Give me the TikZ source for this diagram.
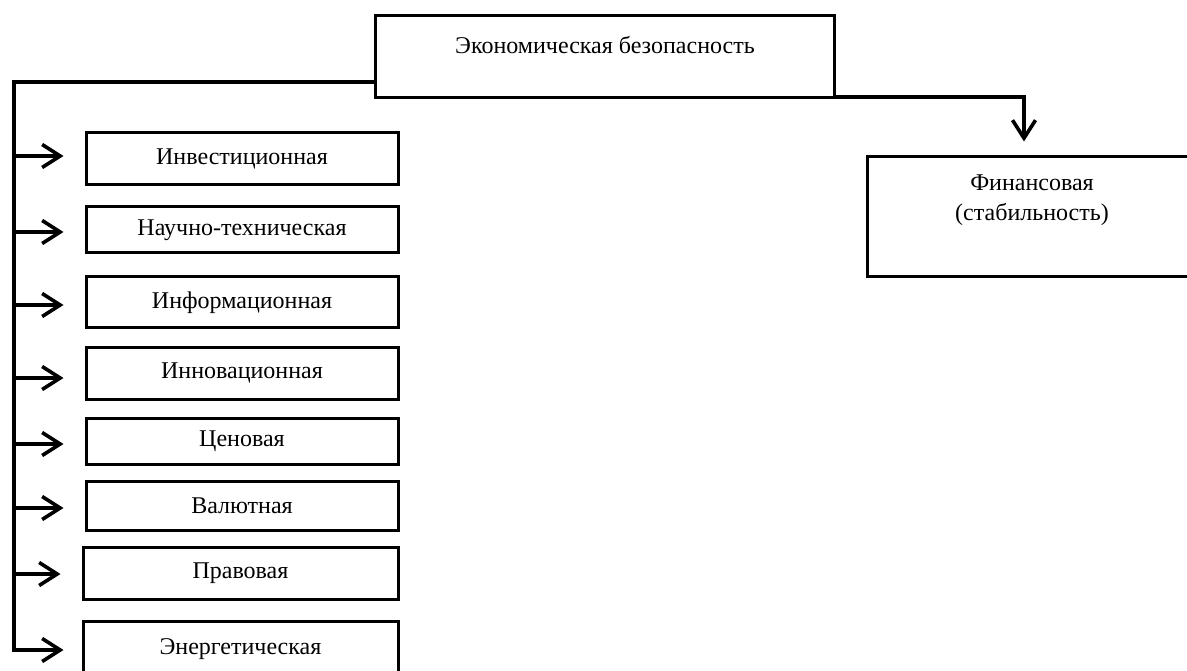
\documentclass[tikz,border=0pt]{standalone}
\usepackage{fontspec}
\setmainfont{Liberation Serif}
\usetikzlibrary{arrows.meta}
\tikzset{
  box/.style={draw=black, line width=3pt, rectangle, inner sep=0pt, minimum width=312pt, minimum height=50pt, font=\fontsize{24}{28}\selectfont},
  lbl/.style={font=\fontsize{24}{30}\selectfont, inner sep=0pt, align=center},
  conn/.style={line width=4pt, line join=miter},
  tip/.style={-{Straight Barb[length=18pt, width=23pt, line width=3.6pt]}},
  arr/.style={line width=3.6pt, tip, shorten >=21pt},
}
\begin{document}
\begin{tikzpicture}[x=1pt, y=-1pt]
\useasboundingbox (0,0) rectangle (1187,671);
\clip (0,0) rectangle (1187,671);
\fill[white] (0,0) rectangle (1187,671);
% top box
\node[box, minimum width=459pt, minimum height=82pt] (top) at (604.5,57) {};
\node[lbl] (toptxt) at (605,45) {Экономическая безопасность};
% right box
\node[box, minimum width=330pt, minimum height=120pt] (fin) at (1032,217) {};
\node[lbl] (fintxt) at (1032,200) {Финансовая\\(стабильность)};
% left boxes
\node[box, minimum height=52pt] (b1) at (242,159) {Инвестиционная};
\node[box, minimum height=46pt] (b2) at (242,230) {Научно-техническая};
\node[box, minimum height=51pt] (b3) at (242,302.5) {Информационная};
\node[box, minimum height=52pt] (b4) at (242,373) {Инновационная};
\node[box, minimum height=46pt] (b5) at (242,441) {Ценовая};
\node[box, minimum height=49pt] (b6) at (242,505.5) {Валютная};
\node[box, minimum width=315pt, minimum height=52pt] (b7) at (240.5,573) {Правовая};
\node[box, minimum width=315pt, minimum height=56pt] (b8) at (240.5,649) {Энергетическая};
% trunk
\coordinate (tl) at (14,82);
\coordinate (t1) at (14,156);
\coordinate (t2) at (14,232);
\coordinate (t3) at (14,305);
\coordinate (t4) at (14,378);
\coordinate (t5) at (14,444);
\coordinate (t6) at (14,508);
\coordinate (t7) at (14,574);
\coordinate (t8) at (14,650);
\draw[conn] (top.west |- 0,82) -- (tl) -- (t8);
\draw[arr] (t1) -- (b1.west |- t1);
\draw[arr] (t2) -- (b2.west |- t2);
\draw[arr] (t3) -- (b3.west |- t3);
\draw[arr] (t4) -- (b4.west |- t4);
\draw[arr] (t5) -- (b5.west |- t5);
\draw[arr] (t6) -- (b6.west |- t6);
\draw[arr] (t7) -- (b7.west |- t7);
\draw[arr, shorten >=18pt] ([xshift=-2pt]t8) -- (b8.west |- t8);
% right connector
\coordinate (rc) at (1024,97);
\draw[conn, tip, shorten >=14pt] (top.east |- rc) -- (rc) -- (rc |- fin.north);
\end{tikzpicture}
\end{document}
